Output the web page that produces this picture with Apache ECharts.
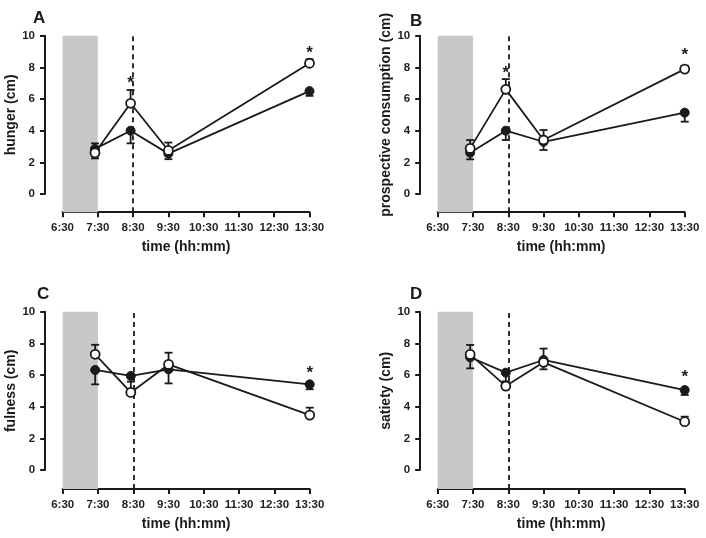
<!DOCTYPE html>
<html>
<head>
<meta charset="utf-8">
<script src="https://cdn.jsdelivr.net/npm/echarts@6/dist/echarts.min.js"></script>
<style>html,body{margin:0;padding:0;background:#fff}#c{width:706px;height:538px}</style>
</head>
<body>
<div id="c"></div>
<script>
// ---- data ----
const timeLabels = ['6:30','7:30','8:30','9:30','10:30','11:30','12:30','13:30'];
const sampleTimes = [0.92, 1.93, 3, 7];          // hours after 6:30
const mealWindow = [0, 1];                          // shaded period (hours after 6:30)
const markerTime = 2;                               // dashed line at 8:30
const panelLetters = ['A','B','C','D'];
const yNames = ['hunger (cm)','prospective consumption (cm)','fulness (cm)','satiety (cm)'];

// filled circles / open circles, with upward and downward error bar lengths
const hungerFilled = [2.85, 4.0, 2.55, 6.5];
const hungerFilledUp = [0.35, 0, 0, 0];
const hungerFilledDown = [0.35, 0.8, 0.35, 0.3];
const hungerOpen = [2.6, 5.73, 2.75, 8.26];
const hungerOpenUp = [0.3, 0.84, 0.5, 0.25];
const hungerOpenDown = [0.35, 0, 0, 0];
const hungerStars = [[1.93, 7.2], [7, 9.1]];

const prospFilled = [2.61, 4.0, 3.3, 5.14];
const prospFilledUp = [0, 0, 0, 0];
const prospFilledDown = [0.42, 0.59, 0.52, 0.57];
const prospOpen = [2.88, 6.61, 3.41, 7.89];
const prospOpenUp = [0.53, 0.65, 0.63, 0.21];
const prospOpenDown = [0, 0, 0, 0];
const prospStars = [[1.93, 7.83], [7, 8.99]];

const fulFilled = [6.32, 5.94, 6.36, 5.41];
const fulFilledUp = [0, 0, 0, 0];
const fulFilledDown = [0.91, 0, 0.89, 0.31];
const fulOpen = [7.31, 4.9, 6.67, 3.47];
const fulOpenUp = [0.6, 0.68, 0.74, 0.47];
const fulOpenDown = [0, 0, 0, 0];
const fulStars = [[7, 6.3]];

const satFilled = [7.12, 6.15, 6.95, 5.05];
const satFilledUp = [0, 0, 0.72, 0];
const satFilledDown = [0.7, 0.55, 0, 0.31];
const satOpen = [7.3, 5.3, 6.8, 3.05];
const satOpenUp = [0.6, 0, 0, 0.32];
const satOpenDown = [0, 0, 0.44, 0];
const satStars = [[7, 6.06]];

const panelsData = [
  {filled: hungerFilled, fUp: hungerFilledUp, fDown: hungerFilledDown, open: hungerOpen, oUp: hungerOpenUp, oDown: hungerOpenDown, stars: hungerStars},
  {filled: prospFilled, fUp: prospFilledUp, fDown: prospFilledDown, open: prospOpen, oUp: prospOpenUp, oDown: prospOpenDown, stars: prospStars},
  {filled: fulFilled, fUp: fulFilledUp, fDown: fulFilledDown, open: fulOpen, oUp: fulOpenUp, oDown: fulOpenDown, stars: fulStars},
  {filled: satFilled, fUp: satFilledUp, fDown: satFilledDown, open: satOpen, oUp: satOpenUp, oDown: satOpenDown, stars: satStars}
];

// ---- layout ----
const FONT = '"Liberation Sans", Arial, Helvetica, sans-serif';
const INK = '#1a1a1a';
const layout = [
  {left: 62.5, top: 35.7, yMin: -1.15, letter: [28, 5]},
  {left: 437.7, top: 35.7, yMin: -1.15, letter: [405, 8]},
  {left: 62.7, top: 311.7, yMin: -1.2, letter: [32, 281]},
  {left: 437.7, top: 311.7, yMin: -1.2, letter: [405, 281]}
];
const PW = 247, UNIT = 15.83;

const grids = [], xAxes = [], yAxes = [], series = [], titles = [];

function errRender(params, api) {
  const x = api.value(0), y = api.value(1), up = api.value(2), dn = api.value(3);
  const t = api.coord([x, y + up]), b = api.coord([x, y - dn]);
  const w = 4, st = {stroke: INK, lineWidth: 1.8};
  const ch = [{type: 'line', shape: {x1: t[0], y1: t[1], x2: b[0], y2: b[1]}, style: st}];
  if (up > 0) ch.push({type: 'line', shape: {x1: t[0] - w, y1: t[1], x2: t[0] + w, y2: t[1]}, style: st});
  if (dn > 0) ch.push({type: 'line', shape: {x1: b[0] - w, y1: b[1], x2: b[0] + w, y2: b[1]}, style: st});
  return {type: 'group', children: ch};
}
function starRender(params, api) {
  const p = api.coord([api.value(0), api.value(1)]);
  return {type: 'text', x: p[0], y: p[1] + 3.5, style: {text: '*', fill: INK, font: 'bold 17px ' + FONT, align: 'center', verticalAlign: 'middle'}};
}

layout.forEach((L, i) => {
  const d = panelsData[i];
  const gMain = i * 2, gAxis = i * 2 + 1;
  const mainH = (10 - L.yMin) * UNIT;
  grids.push({left: L.left, top: L.top, width: PW, height: mainH});
  grids.push({left: L.left, top: L.top, width: PW, height: 10 * UNIT});

  xAxes.push({
    type: 'value', gridIndex: gMain, min: 0, max: 7, interval: 1,
    name: 'time (hh:mm)', nameLocation: 'middle', nameGap: 28,
    nameTextStyle: {fontFamily: FONT, fontWeight: 'bold', fontSize: 14, color: INK},
    axisLine: {show: true, onZero: false, lineStyle: {color: INK, width: 2}},
    axisTick: {show: true, length: 5, lineStyle: {color: INK, width: 2}},
    axisLabel: {margin: 10, fontFamily: FONT, fontWeight: 'bold', fontSize: 11.5, color: '#222',
      formatter: v => timeLabels[Math.round(v)] || ''},
    splitLine: {show: false}
  });
  xAxes.push({type: 'value', gridIndex: gAxis, min: 0, max: 7, show: false});

  yAxes.push({type: 'value', gridIndex: gMain, min: L.yMin, max: 10, show: false});
  yAxes.push({
    type: 'value', gridIndex: gAxis, min: 0, max: 10, interval: 2, offset: 17.5,
    name: yNames[i], nameLocation: 'middle', nameGap: 26,
    nameTextStyle: {fontFamily: FONT, fontWeight: 'bold', fontSize: 14, color: INK},
    axisLine: {show: true, onZero: false, lineStyle: {color: INK, width: 2}},
    axisTick: {show: true, length: 5, lineStyle: {color: INK, width: 2}},
    axisLabel: {margin: 10, fontFamily: FONT, fontWeight: 'bold', fontSize: 11.5, color: '#222'},
    splitLine: {show: false}
  });

  titles.push({text: panelLetters[i], left: L.letter[0], top: L.letter[1],
    textStyle: {fontFamily: FONT, fontWeight: 'bold', fontSize: 17, color: INK}});

  const pts = arr => sampleTimes.map((t, k) => [t, arr[k]]);
  const errPts = (arr, up, dn) => sampleTimes.map((t, k) => [t, arr[k], up[k], dn[k]]);

  // error bars
  series.push({type: 'custom', xAxisIndex: gMain, yAxisIndex: gMain, renderItem: errRender,
    data: errPts(d.filled, d.fUp, d.fDown), z: 3, silent: true});
  series.push({type: 'custom', xAxisIndex: gMain, yAxisIndex: gMain, renderItem: errRender,
    data: errPts(d.open, d.oUp, d.oDown), z: 3, silent: true});
  // filled circles (carries shaded window + dashed line)
  series.push({
    type: 'line', xAxisIndex: gMain, yAxisIndex: gMain, data: pts(d.filled), z: 4,
    symbol: 'circle', symbolSize: 9, showSymbol: true,
    lineStyle: {color: INK, width: 1.8}, itemStyle: {color: INK, borderColor: INK, borderWidth: 1},
    markArea: {silent: true, itemStyle: {color: '#c8c8c8'}, data: [[{xAxis: mealWindow[0]}, {xAxis: mealWindow[1]}]]},
    markLine: {silent: true, symbol: 'none', label: {show: false},
      lineStyle: {color: INK, width: 1.8, type: [5, 4]}, data: [{xAxis: markerTime}]}
  });
  // open circles
  series.push({
    type: 'line', xAxisIndex: gMain, yAxisIndex: gMain, data: pts(d.open), z: 5,
    symbol: 'circle', symbolSize: 9, showSymbol: true,
    lineStyle: {color: INK, width: 1.8}, itemStyle: {color: '#fff', borderColor: INK, borderWidth: 1.8}
  });
  // significance asterisks
  series.push({type: 'custom', xAxisIndex: gMain, yAxisIndex: gMain, renderItem: starRender,
    data: d.stars, z: 6, silent: true});
});

const chart = echarts.init(document.getElementById('c'), null, {renderer: 'canvas'});
chart.setOption({
  backgroundColor: '#fff',
  animation: false,
  title: titles,
  grid: grids,
  xAxis: xAxes,
  yAxis: yAxes,
  series: series
});
</script>
</body>
</html>
